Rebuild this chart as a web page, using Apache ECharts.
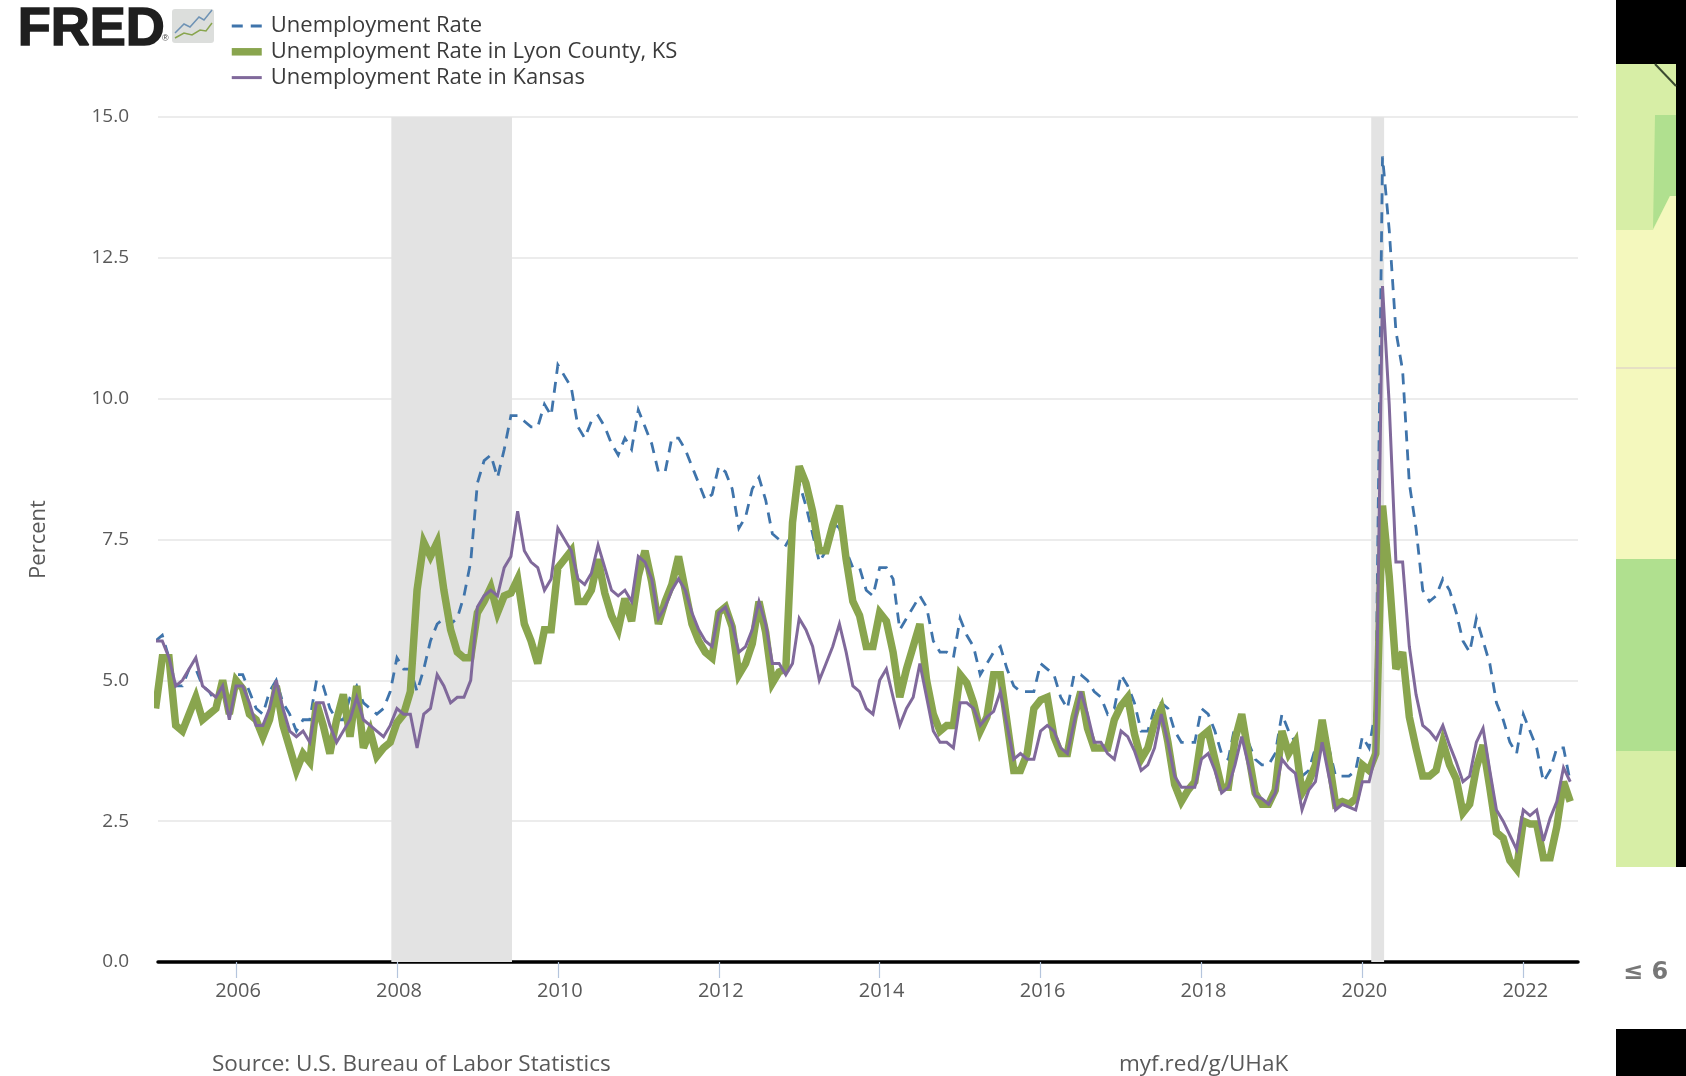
<!DOCTYPE html>
<html>
<head>
<meta charset="utf-8">
<title>Unemployment Rate</title>
<style>
html,body{margin:0;padding:0;background:#fff;}
#main{width:1686px;height:1076px;}
</style>
<script src="https://cdn.jsdelivr.net/npm/echarts@6/dist/echarts.min.js"></script>
</head>
<body>
<div id="main"></div>
<script>
// monthly values Jan 2005 - Aug 2022, one row per year
var usRate = [
    5.7,5.8,5.4,4.9,4.9,5.2,5.2,4.9,4.8,4.6,4.8,4.6,
    5.1,5.1,4.8,4.5,4.4,4.8,5.0,4.6,4.4,4.1,4.3,4.3,
    5.0,4.9,4.5,4.3,4.3,4.7,4.9,4.6,4.5,4.4,4.5,4.8,
    5.4,5.2,5.2,4.8,5.2,5.7,6.0,6.1,6.0,6.1,6.5,7.1,
    8.5,8.9,9.0,8.6,9.1,9.7,9.7,9.6,9.5,9.5,9.9,9.7,
    10.6,10.4,10.2,9.5,9.3,9.6,9.7,9.5,9.2,9.0,9.3,9.1,
    9.8,9.5,9.2,8.7,8.7,9.3,9.3,9.1,8.8,8.5,8.2,8.3,
    8.8,8.7,8.4,7.7,7.9,8.4,8.6,8.2,7.6,7.5,7.4,7.6,
    8.5,8.1,7.6,7.1,7.3,7.8,7.7,7.3,7.0,7.0,6.6,6.5,
    7.0,7.0,6.8,5.9,6.1,6.3,6.5,6.3,5.7,5.5,5.5,5.4,
    6.1,5.8,5.6,5.1,5.3,5.5,5.6,5.2,4.9,4.8,4.8,4.8,
    5.3,5.2,5.1,4.7,4.5,5.1,5.1,5.0,4.8,4.7,4.4,4.5,
    5.1,4.9,4.6,4.1,4.1,4.5,4.6,4.5,4.1,3.9,3.9,3.9,
    4.5,4.4,4.1,3.7,3.6,4.2,4.1,3.9,3.6,3.5,3.5,3.7,
    4.4,4.1,3.9,3.3,3.4,3.8,4.0,3.8,3.3,3.3,3.3,3.4,
    4.0,3.8,4.5,14.3,13.0,11.2,10.5,8.5,7.7,6.6,6.4,6.5,
    6.8,6.6,6.2,5.7,5.5,6.1,5.7,5.3,4.6,4.3,3.9,3.7,
    4.4,4.1,3.8,3.2,3.4,3.8,3.8,3.2
];
var lyonRate = [
    4.5,5.4,5.4,4.2,4.1,4.4,4.7,4.3,4.4,4.5,5.0,4.4,
    5.0,4.85,4.4,4.3,4.0,4.3,4.9,4.2,3.8,3.4,3.7,3.55,
    4.6,4.2,3.7,4.3,4.75,4.0,4.9,3.8,4.1,3.65,3.8,3.9,
    4.25,4.4,4.8,6.6,7.45,7.2,7.45,6.6,5.9,5.5,5.4,5.4,
    6.2,6.4,6.65,6.2,6.5,6.55,6.8,6.0,5.7,5.3,5.9,5.9,
    7.0,7.15,7.3,6.4,6.4,6.6,7.15,6.55,6.15,5.9,6.45,6.05,
    6.85,7.3,6.75,6.0,6.4,6.7,7.2,6.6,6.0,5.7,5.5,5.4,
    6.2,6.3,5.95,5.1,5.3,5.65,6.4,5.85,4.95,5.15,5.2,7.8,
    8.8,8.5,8.0,7.3,7.3,7.75,8.1,7.15,6.4,6.15,5.6,5.6,
    6.2,6.05,5.5,4.7,5.2,5.6,6.0,5.0,4.4,4.1,4.2,4.2,
    5.1,4.95,4.6,4.1,4.35,5.1,5.1,4.25,3.4,3.4,3.7,4.5,
    4.65,4.7,4.0,3.7,3.7,4.35,4.8,4.15,3.8,3.8,3.8,4.3,
    4.55,4.7,4.05,3.6,3.8,4.25,4.5,3.9,3.15,2.85,3.05,3.2,
    4.0,4.1,3.6,3.1,3.1,3.95,4.4,3.7,3.0,2.8,2.8,3.05,
    4.1,3.7,3.9,3.0,3.2,3.5,4.3,3.6,2.8,2.85,2.8,2.9,
    3.5,3.4,3.7,8.1,6.85,5.2,5.5,4.35,3.8,3.3,3.3,3.4,
    3.9,3.5,3.25,2.65,2.8,3.45,3.85,3.1,2.3,2.2,1.8,1.65,
    2.5,2.45,2.45,1.85,1.85,2.4,3.2,2.85
];
var kansasRate = [
    5.7,5.7,5.4,4.9,5.0,5.2,5.4,4.9,4.8,4.7,4.9,4.3,
    4.9,4.9,4.6,4.2,4.2,4.5,5.0,4.5,4.1,4.0,4.1,3.9,
    4.6,4.6,4.2,3.9,4.1,4.3,4.7,4.3,4.2,4.1,4.0,4.2,
    4.5,4.4,4.4,3.8,4.4,4.5,5.1,4.9,4.6,4.7,4.7,5.0,
    6.3,6.5,6.6,6.5,7.0,7.2,8.0,7.3,7.1,7.0,6.6,6.8,
    7.7,7.5,7.3,6.8,6.7,6.9,7.4,7.0,6.6,6.5,6.6,6.4,
    7.2,7.1,6.8,6.1,6.3,6.6,6.8,6.6,6.2,5.9,5.7,5.6,
    6.2,6.3,6.0,5.5,5.6,5.9,6.4,6.0,5.3,5.3,5.1,5.3,
    6.1,5.9,5.6,5.0,5.3,5.6,6.0,5.5,4.9,4.8,4.5,4.4,
    5.0,5.2,4.7,4.2,4.5,4.7,5.3,4.7,4.1,3.9,3.9,3.8,
    4.6,4.6,4.5,4.2,4.35,4.45,4.8,4.2,3.6,3.7,3.6,3.6,
    4.1,4.2,4.1,3.8,3.7,4.25,4.8,4.4,3.9,3.9,3.7,3.6,
    4.1,4.0,3.75,3.4,3.5,3.8,4.4,3.9,3.3,3.1,3.1,3.1,
    3.6,3.7,3.4,3.0,3.1,3.5,4.0,3.5,2.95,2.9,2.8,3.0,
    3.6,3.45,3.35,2.7,3.05,3.2,3.9,3.3,2.7,2.8,2.75,2.7,
    3.2,3.2,3.7,12.0,9.9,7.1,7.1,5.6,4.75,4.2,4.1,3.95,
    4.2,3.85,3.55,3.2,3.3,3.9,4.15,3.4,2.7,2.5,2.25,2.0,
    2.7,2.6,2.7,2.15,2.55,2.85,3.45,3.2
];
var tickYears = [2006,2008,2010,2012,2014,2016,2018,2020,2022];
// recession shading, in fractional years
var recessions = [[2007.93,2009.43],[2020.11,2020.27]];
var seriesNames = ['Unemployment Rate','Unemployment Rate in Lyon County, KS','Unemployment Rate in Kansas'];

var textColor = '#595959';
var fontName = '"Open Sans"';

function toPairs(values){
    var out = [];
    for(var i=0;i<values.length;i++){
        out.push([2005+i/12,values[i]]);
    }
    return out;
}

var bands = recessions.map(function(r){
    return [{xAxis:r[0]},{xAxis:r[1]}];
});

// FRED logo and the piece of the neighbouring map that is cropped in on the right
var decorations = [
    {type:'text',left:17,top:2,style:{text:'FRED',font:'bold 54px "Liberation Sans"',fill:'#1f1f1f',stroke:'#1f1f1f',lineWidth:1.5}},
    {type:'text',left:162,top:34,style:{text:'®',font:'9px "Liberation Sans"',fill:'#444'}},
    {type:'rect',shape:{x:172,y:9,width:42,height:34,r:3},style:{fill:'#dcdedc'}},
    {type:'polyline',shape:{points:[[175,33],[184,24],[190,27],[199,17],[204,20],[212,10]]},style:{stroke:'#6f93b5',lineWidth:1.5,fill:null}},
    {type:'polyline',shape:{points:[[175,38],[184,33],[192,35],[200,30],[206,31],[212,23]]},style:{stroke:'#89a54e',lineWidth:1.5,fill:null}},

    {type:'rect',shape:{x:1616,y:0,width:70,height:64},style:{fill:'#000'}},
    {type:'rect',shape:{x:1676,y:0,width:10,height:867},style:{fill:'#000'}},
    {type:'rect',shape:{x:1616,y:1029,width:70,height:47},style:{fill:'#000'}},
    {type:'rect',shape:{x:1616,y:64,width:60,height:166},style:{fill:'#d7eea6'}},
    {type:'polygon',shape:{points:[[1655,115],[1676,115],[1676,196],[1670,196],[1653,229],[1655,115]]},style:{fill:'#b0e08f'}},
    {type:'polygon',shape:{points:[[1616,230],[1653,230],[1670,196],[1676,196],[1676,559],[1616,559]]},style:{fill:'#f4f8bd'}},
    {type:'line',shape:{x1:1616,y1:368,x2:1676,y2:368},style:{stroke:'#e6e0c4',lineWidth:2}},
    {type:'rect',shape:{x:1616,y:559,width:60,height:192},style:{fill:'#b0e08f'}},
    {type:'rect',shape:{x:1616,y:751,width:60,height:116},style:{fill:'#d7eea6'}},
    {type:'line',shape:{x1:1655,y1:64,x2:1676,y2:86},style:{stroke:'#3a4a30',lineWidth:2}},
    {type:'text',left:1623,top:961,style:{text:'≤ 6',font:'bold 24px "DejaVu Sans"',fill:'#777'}},

    {type:'text',left:212,top:1053,style:{text:'Source: U.S. Bureau of Labor Statistics',font:'22.5px '+fontName,fill:textColor}},
    {type:'text',left:1119,top:1053,style:{text:'myf.red/g/UHaK',font:'22.5px '+fontName,fill:textColor}}
];

var chart = echarts.init(document.getElementById('main'));
var option = {
    animation:false,
    backgroundColor:'#fff',
    legend:{
        orient:'vertical',
        left:223,
        top:10,
        itemWidth:30,
        itemHeight:14,
        itemGap:3.8,
        selectedMode:false,
        itemStyle:{opacity:0},
        lineStyle:{width:'inherit'},
        textStyle:{fontFamily:fontName,fontSize:22,color:'#3b3b3b',padding:[0,0,0,4]},
        data:seriesNames
    },
    grid:{left:158,top:117,width:1420,height:845},
    xAxis:{
        type:'value',
        min:2005.03,
        max:2022.68,
        axisLine:{onZero:false,lineStyle:{color:'#000',width:3.5}},
        axisTick:{show:true,length:16,customValues:tickYears,lineStyle:{color:'#b5c5dd',width:1.2}},
        axisLabel:{
            customValues:tickYears,
            fontFamily:fontName,
            fontSize:20,
            color:textColor,
            margin:19,
            padding:[0,0,0,4],
            showMinLabel:true,
            showMaxLabel:true,
            formatter:function(v){ return String(v); }
        },
        splitLine:{show:false}
    },
    yAxis:{
        type:'value',
        min:0,
        max:15,
        interval:2.5,
        name:'Percent',
        nameLocation:'middle',
        nameGap:108,
        nameTextStyle:{fontFamily:fontName,fontSize:22,color:textColor},
        axisLine:{show:false},
        axisTick:{show:false},
        axisLabel:{
            fontFamily:fontName,
            fontSize:19,
            color:textColor,
            margin:29,
            formatter:function(v){ return v.toFixed(1); }
        },
        splitLine:{lineStyle:{color:'#e6e6e6',width:1.5}}
    },
    series:[
        {
            name:seriesNames[0],
            type:'line',
            symbol:'none',
            data:toPairs(usRate),
            lineStyle:{color:'#3f74ab',width:2.8,type:[11,8],join:'miter'},
            itemStyle:{color:'#3f74ab'},
            markArea:{silent:true,itemStyle:{color:'#e3e3e3'},data:bands}
        },
        {
            name:seriesNames[1],
            type:'line',
            symbol:'none',
            data:toPairs(lyonRate),
            lineStyle:{color:'#89a54e',width:7.5,join:'miter',miterLimit:4},
            itemStyle:{color:'#89a54e'}
        },
        {
            name:seriesNames[2],
            type:'line',
            symbol:'none',
            data:toPairs(kansasRate),
            lineStyle:{color:'#80699b',width:3,join:'miter',miterLimit:4},
            itemStyle:{color:'#80699b'}
        }
    ],
    graphic:decorations
};
chart.setOption(option);
</script>
</body>
</html>
